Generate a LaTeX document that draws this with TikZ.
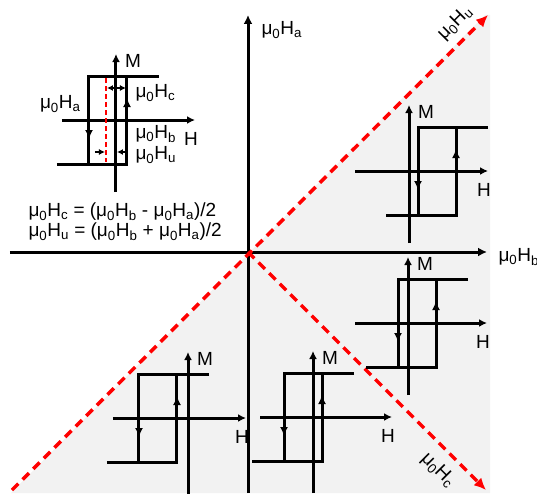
\documentclass[tikz,border=0pt]{standalone}
\usepackage{fontspec}
\setmainfont{Liberation Sans}
\usetikzlibrary{arrows.meta}
\newcommand\muH[1]{μ\textsubscript{0}H\textsubscript{#1}}
\tikzset{
  axis/.style={line width=3pt,-{Latex[length=9pt,width=9pt]}},
  loopline/.style={line width=3pt},
  midtip/.style={line width=3pt,-{Latex[length=9pt,width=8pt]}},
  diag/.style={red,line width=3.5pt,dash pattern=on 9pt off 6pt,-{Latex[length=12pt,width=11pt]}},
  small/.style={line width=1.5pt,{Latex[length=6pt,width=6pt]}-{Latex[length=6pt,width=6pt]}},
  onetip/.style={line width=1.5pt,-{Latex[length=6pt,width=6pt]}}
}
\begin{document}
\begin{tikzpicture}[x=1pt,y=1pt,font=\fontsize{19}{21}\selectfont]
\useasboundingbox (-248,-241) rectangle (289,252);
\fill[gray!10] (-237,-241) -- (237,237) -- (242,237) -- (242,-241) -- cycle;
\draw[axis] (-238,0) -- (239,0);
\draw[axis] (0,-241) -- (0,237);
\node (hb) at (247,-5)[anchor=west]{\muH{b}};
\node (ha) at (10,222)[anchor=west]{\muH{a}};
\draw[diag] (-236,-238) -- (240,237);
\draw[diag] (0,0) -- (238,-238);
\node (hu) at (207,229)[rotate=45]{\muH{u}};
\node (hc) at (190,-218)[rotate=-45]{\muH{c}};
\node (eq1) at (-223,40)[anchor=west]{\muH{c} = (\muH{b} - \muH{a})/2};
\node (eq2) at (-223,20)[anchor=west]{\muH{u} = (\muH{b} + \muH{a})/2};

\foreach \mx/\hy/\a/\hl/\hr/\mb in {-132/132/-27/-54/79/-72, 161/81/9/-54/79/-72, 160/-71/-10/-53/79/-72, -60/-166/-49/-75/58/-76, 65/-165/-29/-53/79/-76}
{
\begin{scope}[shift={(\mx,\hy)}]
\draw[axis,-{Latex[length=8pt,width=8pt]}] (\hl,0) -- (\hr,0);
\draw[axis,-{Latex[length=8pt,width=8pt]}] (0,\mb) -- (0,66);
\node at (17,59){M};
\node at (\hr-4,-19){H};
\draw[loopline] (\a-32,-44) -- (\a+38,-44) -- (\a+38,44);
\draw[loopline] (\a+70,44) -- (\a,44) -- (\a,-44);
\draw[midtip] (\a+38,-44) -- (\a+38,22);
\draw[midtip] (\a,44) -- (\a,-19);
\end{scope}
}

\begin{scope}[shift={(-132,132)}]
\draw[red,line width=1.5pt,dash pattern=on 5pt off 3pt] (-10,42) -- (-10,-42);
\draw[small] (-9,32) -- (10,32);
\draw[onetip] (-21,-32) -- (-11,-32);
\draw[onetip] (9,-32) -- (1,-32);
\node (lhc) at (16,27)[anchor=west]{\muH{c}};
\node (lha) at (-32,16)[anchor=east]{\muH{a}};
\node (lhb) at (16,-14)[anchor=west]{\muH{b}};
\node (lhu) at (16,-35)[anchor=west]{\muH{u}};
\end{scope}
\end{tikzpicture}
\end{document}
